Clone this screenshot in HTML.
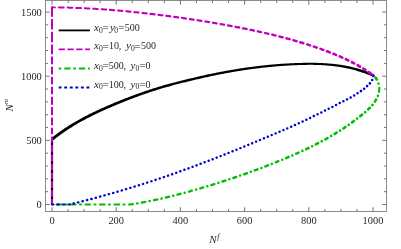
<!DOCTYPE html>
<html><head><meta charset="utf-8"><title>plot</title>
<style>html,body{margin:0;padding:0;background:#fff;}svg{display:block;will-change:transform;}text{font-family:"Liberation Serif",serif;fill:#262626;}</style></head>
<body>
<svg width="401" height="249" viewBox="0 0 401 249">
<rect width="401" height="249" fill="#fff"/>
<defs><clipPath id="c"><rect x="45.5" y="0.5" width="341.0" height="211.0"/></clipPath></defs>
<g clip-path="url(#c)" stroke="none">
<path d="M52 204.50 L52 139.4" stroke="#000" stroke-width="2.2" fill="none"/>
<path d="M53.11 140.42 L53.88 139.79 L54.65 139.17 L55.43 138.55 L56.21 137.94 L57.00 137.33 L57.79 136.73 L58.58 136.13 L59.38 135.54 L60.18 134.95 L60.98 134.36 L61.78 133.78 L62.59 133.20 L63.41 132.63 L64.22 132.07 L65.04 131.50 L65.86 130.94 L66.69 130.39 L67.52 129.84 L68.35 129.29 L69.18 128.75 L70.02 128.22 L70.86 127.68 L71.70 127.15 L72.54 126.63 L73.39 126.11 L74.24 125.59 L75.09 125.08 L75.95 124.57 L76.81 124.07 L77.67 123.57 L78.53 123.07 L79.39 122.58 L80.26 122.09 L81.13 121.60 L82.00 121.12 L82.87 120.64 L83.75 120.16 L84.63 119.69 L85.50 119.22 L86.39 118.76 L87.27 118.30 L88.15 117.84 L89.04 117.38 L89.93 116.93 L90.82 116.48 L91.71 116.04 L92.60 115.60 L93.50 115.16 L94.39 114.72 L95.29 114.28 L96.19 113.85 L97.09 113.42 L97.99 113.00 L98.90 112.57 L99.80 112.15 L100.71 111.74 L101.61 111.32 L102.52 110.91 L103.43 110.49 L104.34 110.08 L105.25 109.68 L106.16 109.27 L107.08 108.87 L107.99 108.47 L108.91 108.07 L109.82 107.67 L110.74 107.28 L111.66 106.88 L112.58 106.49 L113.50 106.10 L114.42 105.71 L115.34 105.32 L116.26 104.94 L117.18 104.55 L118.11 104.17 L119.03 103.79 L119.95 103.41 L120.88 103.03 L121.80 102.66 L122.73 102.28 L123.66 101.91 L124.58 101.54 L125.51 101.17 L126.44 100.80 L127.37 100.44 L128.30 100.07 L129.23 99.71 L130.16 99.35 L131.10 98.99 L132.03 98.64 L132.96 98.28 L133.90 97.93 L134.83 97.58 L135.77 97.23 L136.70 96.88 L137.64 96.54 L138.58 96.20 L139.52 95.85 L140.46 95.52 L141.40 95.18 L142.34 94.85 L143.28 94.51 L144.22 94.18 L145.17 93.85 L146.11 93.53 L147.05 93.21 L148.00 92.88 L148.95 92.56 L149.89 92.25 L150.84 91.93 L151.79 91.62 L152.74 91.31 L153.69 91.00 L154.64 90.70 L155.59 90.39 L156.54 90.09 L157.49 89.79 L158.45 89.50 L159.40 89.20 L160.35 88.91 L161.31 88.62 L162.27 88.34 L163.22 88.05 L164.18 87.77 L165.14 87.49 L166.10 87.22 L167.06 86.95 L168.02 86.68 L168.98 86.41 L169.94 86.14 L170.91 85.88 L171.87 85.62 L172.83 85.36 L173.80 85.10 L174.76 84.84 L175.73 84.59 L176.70 84.34 L177.67 84.09 L178.63 83.84 L179.60 83.59 L180.57 83.35 L181.54 83.11 L182.51 82.87 L183.48 82.62 L184.45 82.39 L185.42 82.15 L186.39 81.91 L187.37 81.67 L188.34 81.44 L189.31 81.21 L190.28 80.97 L191.26 80.74 L192.23 80.51 L193.21 80.28 L194.18 80.05 L195.15 79.82 L196.13 79.59 L197.10 79.36 L198.07 79.13 L199.05 78.90 L200.02 78.68 L201.00 78.45 L201.97 78.23 L202.95 78.01 L203.92 77.79 L204.90 77.57 L205.87 77.35 L206.85 77.14 L207.82 76.92 L208.80 76.71 L209.78 76.50 L210.75 76.29 L211.73 76.08 L212.71 75.87 L213.69 75.67 L214.67 75.47 L215.65 75.26 L216.62 75.07 L217.60 74.87 L218.58 74.67 L219.56 74.48 L220.54 74.28 L221.53 74.09 L222.51 73.90 L223.49 73.72 L224.47 73.53 L225.45 73.34 L226.43 73.16 L227.42 72.98 L228.40 72.80 L229.38 72.63 L230.37 72.45 L231.35 72.28 L232.34 72.10 L233.32 71.93 L234.31 71.77 L235.29 71.60 L236.28 71.44 L237.26 71.27 L238.25 71.11 L239.24 70.95 L240.22 70.80 L241.21 70.64 L242.20 70.49 L243.18 70.33 L244.17 70.18 L245.16 70.04 L246.15 69.89 L247.14 69.75 L248.13 69.60 L249.12 69.46 L250.11 69.33 L251.10 69.19 L252.09 69.05 L253.08 68.92 L254.07 68.79 L255.06 68.66 L256.05 68.54 L257.04 68.41 L258.03 68.29 L259.02 68.17 L260.02 68.05 L261.01 67.93 L262.00 67.82 L262.99 67.71 L263.99 67.60 L264.98 67.49 L265.97 67.38 L266.97 67.28 L267.96 67.17 L268.95 67.07 L269.95 66.97 L270.94 66.88 L271.94 66.78 L272.93 66.69 L273.93 66.60 L274.92 66.52 L275.92 66.43 L276.91 66.35 L277.91 66.27 L278.90 66.19 L279.90 66.11 L280.90 66.03 L281.89 65.96 L282.89 65.89 L283.89 65.82 L284.88 65.76 L285.88 65.69 L286.88 65.63 L287.87 65.57 L288.87 65.51 L289.87 65.46 L290.87 65.41 L291.87 65.36 L292.86 65.31 L293.86 65.26 L294.86 65.22 L295.86 65.18 L296.86 65.14 L297.85 65.10 L298.85 65.07 L299.85 65.03 L300.85 65.00 L301.85 64.98 L302.85 64.95 L303.84 64.93 L304.84 64.91 L305.84 64.89 L306.84 64.88 L307.84 64.87 L308.83 64.86 L309.83 64.85 L310.83 64.86 L311.83 64.86 L312.83 64.87 L313.82 64.89 L314.82 64.91 L315.82 64.93 L316.81 64.96 L317.81 64.99 L318.81 65.03 L319.80 65.07 L320.80 65.11 L321.79 65.16 L322.79 65.21 L323.78 65.27 L324.78 65.34 L325.77 65.41 L326.76 65.48 L327.76 65.56 L328.75 65.65 L329.74 65.74 L330.73 65.83 L331.72 65.93 L332.71 66.04 L333.70 66.16 L334.68 66.28 L335.67 66.40 L336.66 66.53 L337.64 66.67 L338.62 66.82 L339.61 66.97 L340.59 67.13 L341.57 67.29 L342.54 67.46 L343.52 67.64 L344.50 67.83 L345.47 68.02 L346.44 68.22 L347.41 68.43 L348.38 68.64 L349.35 68.86 L350.32 69.09 L351.28 69.33 L352.24 69.57 L353.20 69.82 L354.16 70.08 L355.11 70.34 L356.07 70.62 L357.02 70.90 L357.97 71.18 L358.92 71.47 L359.87 71.77 L360.81 72.08 L361.75 72.39 L362.69 72.71 L363.63 73.04 L364.57 73.37 L365.50 73.70 L366.43 74.05 L367.36 74.40 L368.29 74.75 L369.21 75.12 L370.13 75.48 L371.05 75.86 L371.97 76.23 L372.89 76.62 L373.91 74.18 L372.98 73.80 L372.04 73.42 L371.11 73.04 L370.17 72.67 L369.22 72.31 L368.28 71.96 L367.33 71.61 L366.38 71.27 L365.43 70.93 L364.47 70.60 L363.51 70.28 L362.55 69.96 L361.59 69.66 L360.63 69.35 L359.66 69.06 L358.69 68.77 L357.72 68.49 L356.75 68.22 L355.77 67.95 L354.80 67.69 L353.82 67.44 L352.84 67.19 L351.86 66.96 L350.87 66.73 L349.89 66.50 L348.90 66.29 L347.91 66.08 L346.92 65.88 L345.93 65.69 L344.93 65.51 L343.94 65.33 L342.94 65.16 L341.95 65.00 L340.95 64.84 L339.95 64.69 L338.95 64.55 L337.95 64.41 L336.95 64.28 L335.95 64.16 L334.95 64.04 L333.95 63.93 L332.95 63.82 L331.94 63.72 L330.94 63.63 L329.94 63.54 L328.93 63.46 L327.93 63.38 L326.92 63.31 L325.92 63.25 L324.91 63.18 L323.91 63.13 L322.90 63.08 L321.90 63.03 L320.89 62.99 L319.89 62.95 L318.88 62.92 L317.87 62.89 L316.87 62.87 L315.86 62.84 L314.86 62.83 L313.85 62.82 L312.85 62.81 L311.84 62.80 L310.84 62.80 L309.83 62.80 L308.83 62.80 L307.82 62.80 L306.82 62.81 L305.81 62.82 L304.81 62.83 L303.80 62.85 L302.80 62.87 L301.80 62.89 L300.79 62.91 L299.79 62.94 L298.79 62.96 L297.78 62.99 L296.78 63.03 L295.78 63.06 L294.77 63.10 L293.77 63.14 L292.77 63.18 L291.76 63.23 L290.76 63.27 L289.76 63.32 L288.76 63.38 L287.75 63.43 L286.75 63.49 L285.75 63.54 L284.75 63.60 L283.75 63.67 L282.74 63.73 L281.74 63.80 L280.74 63.87 L279.74 63.94 L278.74 64.01 L277.74 64.09 L276.74 64.17 L275.74 64.25 L274.74 64.33 L273.74 64.41 L272.74 64.50 L271.74 64.59 L270.74 64.68 L269.74 64.77 L268.74 64.87 L267.74 64.97 L266.74 65.07 L265.74 65.17 L264.74 65.27 L263.74 65.38 L262.75 65.48 L261.75 65.59 L260.75 65.71 L259.75 65.82 L258.76 65.93 L257.76 66.05 L256.76 66.17 L255.77 66.29 L254.77 66.42 L253.78 66.54 L252.78 66.67 L251.79 66.80 L250.79 66.93 L249.80 67.07 L248.80 67.20 L247.81 67.34 L246.81 67.48 L245.82 67.62 L244.83 67.77 L243.83 67.91 L242.84 68.06 L241.85 68.21 L240.86 68.36 L239.86 68.51 L238.87 68.67 L237.88 68.82 L236.89 68.98 L235.90 69.14 L234.91 69.31 L233.92 69.47 L232.93 69.64 L231.94 69.80 L230.95 69.97 L229.96 70.15 L228.97 70.32 L227.99 70.49 L227.00 70.67 L226.01 70.85 L225.02 71.03 L224.04 71.21 L223.05 71.40 L222.06 71.58 L221.08 71.77 L220.09 71.96 L219.11 72.15 L218.12 72.34 L217.14 72.54 L216.15 72.73 L215.17 72.93 L214.19 73.13 L213.20 73.33 L212.22 73.53 L211.24 73.74 L210.26 73.94 L209.28 74.15 L208.29 74.36 L207.31 74.57 L206.33 74.79 L205.35 75.00 L204.37 75.22 L203.39 75.43 L202.41 75.65 L201.44 75.87 L200.46 76.10 L199.48 76.32 L198.50 76.54 L197.53 76.77 L196.55 77.00 L195.57 77.22 L194.60 77.45 L193.62 77.68 L192.65 77.91 L191.67 78.14 L190.69 78.37 L189.72 78.61 L188.74 78.84 L187.77 79.07 L186.80 79.30 L185.82 79.54 L184.85 79.78 L183.87 80.01 L182.90 80.25 L181.92 80.49 L180.95 80.73 L179.98 80.97 L179.00 81.22 L178.03 81.46 L177.06 81.71 L176.08 81.96 L175.11 82.21 L174.14 82.46 L173.17 82.71 L172.20 82.97 L171.23 83.22 L170.26 83.48 L169.29 83.75 L168.32 84.01 L167.35 84.28 L166.38 84.55 L165.42 84.82 L164.45 85.09 L163.48 85.37 L162.52 85.65 L161.55 85.93 L160.59 86.21 L159.63 86.50 L158.66 86.79 L157.70 87.08 L156.74 87.38 L155.78 87.67 L154.82 87.97 L153.87 88.27 L152.91 88.58 L151.95 88.89 L151.00 89.19 L150.04 89.51 L149.09 89.82 L148.13 90.14 L147.18 90.45 L146.23 90.77 L145.28 91.10 L144.33 91.42 L143.38 91.75 L142.43 92.08 L141.48 92.41 L140.53 92.74 L139.59 93.08 L138.64 93.42 L137.70 93.76 L136.75 94.10 L135.81 94.44 L134.87 94.79 L133.92 95.14 L132.98 95.49 L132.04 95.84 L131.10 96.19 L130.16 96.55 L129.23 96.91 L128.29 97.26 L127.35 97.63 L126.42 97.99 L125.48 98.35 L124.55 98.72 L123.61 99.09 L122.68 99.46 L121.75 99.83 L120.81 100.21 L119.88 100.58 L118.95 100.96 L118.02 101.34 L117.10 101.72 L116.17 102.10 L115.24 102.49 L114.31 102.87 L113.39 103.26 L112.46 103.65 L111.54 104.04 L110.61 104.43 L109.69 104.83 L108.77 105.22 L107.85 105.62 L106.92 106.02 L106.00 106.42 L105.08 106.82 L104.16 107.23 L103.25 107.63 L102.33 108.04 L101.41 108.46 L100.50 108.87 L99.58 109.29 L98.67 109.70 L97.76 110.13 L96.84 110.55 L95.93 110.98 L95.03 111.41 L94.12 111.84 L93.21 112.27 L92.30 112.71 L91.40 113.15 L90.50 113.59 L89.60 114.04 L88.70 114.49 L87.80 114.94 L86.90 115.40 L86.01 115.86 L85.11 116.32 L84.22 116.79 L83.33 117.26 L82.44 117.73 L81.55 118.21 L80.67 118.69 L79.79 119.18 L78.91 119.66 L78.03 120.16 L77.15 120.65 L76.27 121.15 L75.40 121.66 L74.53 122.16 L73.66 122.68 L72.80 123.19 L71.93 123.71 L71.07 124.24 L70.21 124.77 L69.36 125.30 L68.50 125.84 L67.65 126.38 L66.81 126.92 L65.96 127.48 L65.12 128.03 L64.28 128.59 L63.44 129.15 L62.61 129.72 L61.78 130.30 L60.95 130.88 L60.13 131.46 L59.31 132.05 L58.49 132.64 L57.67 133.23 L56.86 133.84 L56.06 134.44 L55.25 135.05 L54.45 135.67 L53.66 136.29 L52.86 136.92 L52.07 137.55 L51.29 138.18Z" fill="#000"/>
<path d="M52 204.50 V198.95 M52 196.65 V190.25 M52 187.95 V181.25 M52 178.95 V172.65 M52 170.35 V163.75 M52 161.45 V154.55 M52 152.25 V144.85 M52 142.55 V136.45 M52 134.15 V127.65 M52 125.35 V117.45 M52 115.15 V106.95 M52 104.65 V96.65 M52 94.35 V86.65 M52 84.35 V76.75 M52 74.45 V66.65 M52 64.35 V56.45 M52 54.15 V44.55 M52 42.25 V31.75 M52 29.45 V18.95 M52 16.65 V6.5" stroke="#bf00bf" stroke-width="2.0" fill="none"/>
<path d="M52.0 7.4 L52.7 7.4 L53.4 7.4 L54.2 7.4 L54.9 7.4 M58.8 7.4 L59.5 7.5 L60.2 7.5 L60.9 7.5 L61.6 7.5 L62.3 7.5 L63.0 7.5 L63.7 7.5" fill="none" stroke="#bf00bf" stroke-width="1.9" stroke-linecap="round" stroke-linejoin="round"/>
<path d="M67.6 7.6 L68.4 7.6 L69.2 7.7 L69.9 7.7 L70.7 7.7 L71.5 7.7 L72.3 7.7 M76.2 7.9 L77.0 7.9 L77.8 7.9 L78.6 8.0 L79.3 8.0 L80.1 8.0 L80.9 8.1 M84.8 8.2 L85.5 8.3 L86.3 8.3 L87.1 8.4 L87.8 8.4 L88.6 8.4 L89.4 8.5 M93.2 8.7 L94.0 8.7 L94.7 8.8 L95.5 8.8 L96.2 8.9 L97.0 8.9 L97.7 9.0 M101.6 9.2 L102.3 9.3 L103.1 9.3 L103.8 9.4 L104.6 9.5 L105.3 9.5 L106.1 9.6" fill="none" stroke="#bf00bf" stroke-width="2.0" stroke-linecap="round" stroke-linejoin="round"/>
<path d="M109.9 9.9 L110.6 9.9 L111.4 10.0 L112.1 10.0 L112.8 10.1 L113.5 10.2 L114.3 10.2 M118.1 10.5 L118.9 10.6 L119.6 10.7 L120.3 10.7 L121.0 10.8 L121.7 10.9 L122.4 10.9 M126.3 11.3 L127.0 11.4 L127.7 11.4 L128.4 11.5 L129.1 11.6 L129.8 11.6 L130.5 11.7 M134.4 12.1 L135.1 12.2 L135.8 12.2 L136.5 12.3 L137.2 12.4 L137.9 12.5 L138.6 12.5 M142.4 13.0 L143.1 13.0 L143.8 13.1 L144.5 13.2 L145.2 13.3 L145.9 13.3 L146.6 13.4 M150.4 13.9 L151.1 13.9 L151.8 14.0 L152.5 14.1 L153.2 14.2 L153.9 14.3 L154.6 14.4 M158.4 14.8 L159.1 14.9 L159.8 15.0 L160.5 15.1 L161.1 15.2 L161.8 15.2 L162.5 15.3" fill="none" stroke="#bf00bf" stroke-width="2.1" stroke-linecap="round" stroke-linejoin="round"/>
<path d="M166.3 15.8 L167.0 15.9 L167.7 16.0 L168.3 16.1 L169.0 16.2 L169.7 16.2 L170.4 16.3 M174.2 16.9 L174.9 16.9 L175.5 17.0 L176.2 17.1 L176.9 17.2 L177.5 17.3 L178.2 17.4 M182.0 17.9 L182.8 18.0 L183.6 18.2 L184.4 18.3 L185.2 18.4 L186.0 18.5 M189.8 19.1 L190.6 19.2 L191.4 19.3 L192.2 19.4 L192.9 19.5 L193.7 19.7 M197.5 20.2 L198.3 20.4 L199.1 20.5 L199.9 20.6 L200.6 20.7 L201.4 20.9 M205.2 21.5 L206.0 21.6 L206.8 21.7 L207.5 21.8 L208.3 22.0 L209.1 22.1 M212.9 22.7 L213.6 22.9 L214.4 23.0 L215.1 23.1 L215.9 23.3 L216.7 23.4 M220.4 24.0 L221.2 24.2 L222.0 24.3 L222.7 24.5 L223.5 24.6 L224.2 24.7" fill="none" stroke="#bf00bf" stroke-width="2.2" stroke-linecap="round" stroke-linejoin="round"/>
<path d="M228.0 25.4 L228.8 25.6 L229.5 25.7 L230.2 25.8 L231.0 26.0 L231.7 26.1 M235.5 26.8 L236.3 27.0 L237.0 27.1 L237.7 27.3 L238.4 27.4 L239.2 27.5 M243.0 28.3 L243.7 28.4 L244.4 28.6 L245.1 28.7 L245.9 28.9 L246.6 29.0 M250.4 29.8 L251.1 29.9 L251.8 30.1 L252.5 30.2 L253.2 30.4 L253.9 30.6 M257.7 31.4 L258.4 31.5 L259.1 31.7 L259.8 31.8 L260.5 32.0 L261.2 32.1 M265.0 33.0 L265.7 33.2 L266.4 33.3 L267.1 33.5 L267.8 33.6 L268.5 33.8" fill="none" stroke="#bf00bf" stroke-width="2.3" stroke-linecap="round" stroke-linejoin="round"/>
<path d="M272.2 34.7 L272.9 34.9 L273.6 35.0 L274.2 35.2 L274.9 35.4 L275.6 35.5 M279.4 36.5 L280.0 36.6 L280.7 36.8 L281.3 37.0 L282.0 37.2 L282.7 37.3 M286.4 38.3 L287.1 38.5 L287.7 38.7 L288.4 38.9 L289.0 39.0 L289.7 39.2 M293.4 40.3 L294.0 40.4 L294.7 40.6 L295.3 40.8 L296.0 41.0 L296.6 41.2" fill="none" stroke="#bf00bf" stroke-width="2.4" stroke-linecap="round" stroke-linejoin="round"/>
<path d="M300.3 42.3 L300.9 42.5 L301.6 42.7 L302.2 42.8 L302.8 43.0 L303.4 43.2 M307.1 44.4 L307.9 44.6 L308.6 44.9 L309.4 45.1 L310.1 45.4 M313.8 46.6 L314.6 46.8 L315.3 47.1 L316.1 47.3 L316.8 47.6 M320.5 48.9 L321.2 49.1 L321.9 49.4 L322.6 49.7 L323.4 49.9" fill="none" stroke="#bf00bf" stroke-width="2.5" stroke-linecap="round" stroke-linejoin="round"/>
<path d="M327.0 51.3 L327.7 51.6 L328.4 51.8 L329.1 52.1 L329.8 52.4 M333.4 53.8 L334.1 54.1 L334.8 54.3 L335.4 54.6 L336.1 54.9 M339.7 56.4 L340.4 56.7 L341.0 57.0 L341.7 57.3 L342.3 57.6" fill="none" stroke="#bf00bf" stroke-width="2.6" stroke-linecap="round" stroke-linejoin="round"/>
<path d="M345.9 59.2 L346.5 59.5 L347.1 59.8 L347.7 60.1 L348.3 60.4 M351.9 62.2 L352.5 62.5 L353.0 62.8 L353.6 63.1 L354.2 63.4" fill="none" stroke="#bf00bf" stroke-width="2.7" stroke-linecap="round" stroke-linejoin="round"/>
<path d="M357.7 65.3 L358.2 65.6 L358.8 65.9 L359.3 66.2 L359.9 66.6 M363.3 68.6 L363.8 68.9 L364.4 69.3 L364.9 69.6 L365.4 69.9 M368.7 72.1 L369.2 72.4 L369.7 72.8 L370.2 73.1 L370.7 73.5" fill="none" stroke="#bf00bf" stroke-width="2.8" stroke-linecap="round" stroke-linejoin="round"/>
<path d="M373.2 75.3 L373.2 75.3" fill="none" stroke="#bf00bf" stroke-width="2.9" stroke-linecap="round" stroke-linejoin="round"/>
<path d="M52.4 204.5 L52.4 204.5 M56.5 204.5 L57.3 204.5 L58.0 204.5 L58.8 204.5 L59.6 204.5 L60.3 204.5 L61.1 204.5 M65.5 204.5 L66.0 204.5 L66.5 204.5 M71.0 204.5 L71.8 204.5 L72.5 204.5 L73.3 204.5 L74.1 204.5 L74.8 204.5 L75.6 204.5 M80.0 204.5 L80.5 204.5 L81.0 204.5 M85.5 204.5 L86.3 204.5 L87.0 204.5 L87.8 204.5 L88.6 204.5 L89.3 204.5 L90.1 204.5 M94.5 204.5 L95.0 204.5 L95.5 204.5 M100.0 204.5 L100.8 204.5 L101.5 204.5 L102.3 204.5 L103.1 204.5 L103.8 204.5 L104.6 204.5 M109.0 204.5 L109.5 204.5 L110.0 204.5 M114.5 204.5 L115.3 204.5 L116.0 204.5 L116.8 204.5 L117.6 204.5 L118.3 204.5 L119.1 204.5 M123.5 204.5 L124.0 204.5 L124.5 204.5" fill="none" stroke="#00bf00" stroke-width="2.1" stroke-linecap="round" stroke-linejoin="round"/>
<path d="M129.1 204.5 L129.9 204.5 L130.6 204.4 L131.4 204.3 L132.2 204.2 L132.9 204.1 M379.0 91.8 L379.1 91.0 L379.2 90.2 L379.2 89.4 L379.3 88.6 L379.3 87.8" fill="none" stroke="#00bf00" stroke-width="2.2" stroke-linecap="round" stroke-linejoin="round"/>
<path d="M137.1 203.4 L137.6 203.3 M141.8 202.6 L142.5 202.4 L143.2 202.3 L143.9 202.2 L144.6 202.1 L145.2 201.9 M149.4 201.1 L149.8 201.0 M154.0 200.2 L154.6 200.0 L155.3 199.9 L155.9 199.8 L156.6 199.6 L157.3 199.5" fill="none" stroke="#00bf00" stroke-width="2.3" stroke-linecap="round" stroke-linejoin="round"/>
<path d="M161.4 198.6 L161.7 198.5 M165.9 197.5 L166.5 197.4 L167.1 197.2 L167.7 197.1 L168.4 196.9 L169.0 196.8 M173.1 195.7 L173.3 195.7 M177.5 194.6 L178.3 194.4 L179.0 194.2 L179.8 194.0 L180.5 193.8 M184.6 192.8 L184.8 192.7 M189.0 191.6 L189.7 191.4 L190.5 191.2 L191.2 190.9 L191.9 190.7 M196.0 189.6 L196.2 189.5 M200.3 188.4 L201.0 188.2 L201.7 187.9 L202.5 187.7 L203.2 187.5 M207.2 186.3 L207.4 186.3 M211.4 185.0 L212.2 184.8 L212.9 184.6 L213.6 184.4 L214.3 184.1 M218.3 182.9 L218.5 182.8 M378.6 83.6 L378.5 83.4" fill="none" stroke="#00bf00" stroke-width="2.4" stroke-linecap="round" stroke-linejoin="round"/>
<path d="M222.5 181.5 L223.2 181.3 L223.9 181.1 L224.6 180.9 L225.3 180.6 M229.3 179.3 L229.4 179.3 M233.4 177.9 L234.1 177.7 L234.8 177.5 L235.4 177.2 L236.1 177.0 M240.1 175.6 L240.2 175.6 M244.2 174.2 L244.9 174.0 L245.5 173.7 L246.2 173.5 L246.9 173.3 M250.8 171.8 L250.9 171.8 M254.8 170.3 L255.5 170.1 L256.2 169.9 L256.8 169.6 L257.5 169.4 M261.4 167.9 L261.4 167.9 M265.4 166.4 L266.0 166.1 L266.7 165.9 L267.3 165.6 L268.0 165.4 M271.8 163.9 L271.9 163.8 M275.8 162.3 L276.4 162.0 L277.1 161.8 L277.7 161.5 L278.3 161.2 M282.2 159.7 L282.2 159.7 M286.1 158.1 L286.7 157.8 L287.3 157.5 L287.9 157.3 L288.6 157.0 M292.3 155.4 L292.4 155.4 M296.2 153.7 L296.8 153.4 L297.4 153.1 L298.0 152.9 L298.6 152.6 M377.9 95.9 L377.9 95.8" fill="none" stroke="#00bf00" stroke-width="2.5" stroke-linecap="round" stroke-linejoin="round"/>
<path d="M302.4 150.9 L302.4 150.9 M306.2 149.1 L306.8 148.8 L307.3 148.5 L307.9 148.3 L308.5 148.0 M312.2 146.2 L312.2 146.2 M315.9 144.3 L316.5 144.0 L317.0 143.7 L317.6 143.4 L318.1 143.2 M321.7 141.3 L321.8 141.2 M325.4 139.3 L325.9 139.0 L326.5 138.7 L327.0 138.4 L327.5 138.1 M331.0 136.1 L331.1 136.0 M334.6 134.0 L335.1 133.6 L335.6 133.3 L336.1 133.0 L336.7 132.7 M340.0 130.6 L340.1 130.6 M374.9 101.7 L375.2 101.2 L375.5 100.7 L375.8 100.2 L376.1 99.7" fill="none" stroke="#00bf00" stroke-width="2.6" stroke-linecap="round" stroke-linejoin="round"/>
<path d="M343.5 128.3 L344.2 127.9 L344.8 127.5 L345.4 127.0 M348.7 124.8 L348.8 124.8 M352.1 122.4 L352.7 121.9 L353.3 121.5 L353.9 121.0 M357.1 118.6 L357.1 118.6 M360.3 116.1 L360.9 115.6 L361.5 115.2 L362.1 114.7 M365.1 112.2 L365.2 112.1 M368.2 109.4 L368.7 108.9 L369.2 108.4 L369.8 107.9 M372.4 105.0 L372.5 104.9 M376.8 79.5 L376.4 78.9 L376.0 78.2 L375.5 77.6" fill="none" stroke="#00bf00" stroke-width="2.7" stroke-linecap="round" stroke-linejoin="round"/>
<path d="M52.0 204.5 L52.7 204.5 L53.5 204.5 M57.3 204.5 L57.9 204.5 L58.4 204.5 L59.0 204.5 M62.8 204.5 L63.4 204.5 L64.0 204.5 L64.6 204.5" fill="none" stroke="#0000cc" stroke-width="2.0" stroke-linecap="round" stroke-linejoin="round"/>
<path d="M68.5 204.5 L69.1 204.5 L69.8 204.4" fill="none" stroke="#0000cc" stroke-width="2.1" stroke-linecap="round" stroke-linejoin="round"/>
<path d="M373.4 76.3 L373.4 76.2" fill="none" stroke="#0000cc" stroke-width="2.2" stroke-linecap="round" stroke-linejoin="round"/>
<path d="M73.5 203.5 L74.0 203.4 M77.9 202.4 L78.4 202.3 M82.4 201.3 L82.9 201.1 M86.8 200.1 L87.3 200.0 M91.2 199.0 L91.7 198.9 M95.6 197.8 L96.0 197.7 M99.9 196.6 L100.4 196.5 M104.3 195.4 L104.8 195.3 M108.7 194.2 L109.1 194.1 M113.0 193.0 L113.4 192.9 M117.3 191.8 L117.7 191.6 M121.6 190.5 L122.0 190.4 M125.9 189.2 L126.3 189.1 M130.2 187.9 L130.5 187.8 M134.4 186.6 L134.8 186.5 M138.7 185.3 L139.0 185.2 M142.9 184.0 L143.2 183.9" fill="none" stroke="#0000cc" stroke-width="2.3" stroke-linecap="round" stroke-linejoin="round"/>
<path d="M147.1 182.6 L147.3 182.5 M151.3 181.3 L151.5 181.2 M155.5 179.9 L155.7 179.8 M159.6 178.5 L159.8 178.4 M163.8 177.1 L164.0 177.0 M167.9 175.7 L168.1 175.6 M172.0 174.2 L172.2 174.2 M176.2 172.8 L176.3 172.7 M180.2 171.3 L180.4 171.3 M184.3 169.8 L184.5 169.8 M188.4 168.4 L188.6 168.3 M192.5 166.9 L192.6 166.8 M196.5 165.4 L196.7 165.3 M200.5 163.8 L200.7 163.8 M204.6 162.3 L204.7 162.3 M208.6 160.8 L208.7 160.7 M212.6 159.2 L212.7 159.2 M216.6 157.7 L216.7 157.6 M220.6 156.1 L220.7 156.0 M224.5 154.5 L224.7 154.5 M228.5 152.9 L228.6 152.9 M232.5 151.3 L232.6 151.3 M236.4 149.7 L236.5 149.7 M240.3 148.1 L240.5 148.1 M244.3 146.5 L244.4 146.5 M248.2 144.9 L248.3 144.8 M252.1 143.3 L252.2 143.2 M256.0 141.6 L256.2 141.6 M259.9 140.0 L260.1 139.9 M263.9 138.3 L264.0 138.3 M267.8 136.7 L267.9 136.7 M271.7 135.1 L271.8 135.0 M275.6 133.4 L275.7 133.4 M279.5 131.8 L279.6 131.7 M283.4 130.1 L283.5 130.0 M287.2 128.4 L287.3 128.4 M291.1 126.7 L291.2 126.7" fill="none" stroke="#0000cc" stroke-width="2.4" stroke-linecap="round" stroke-linejoin="round"/>
<path d="M294.9 125.0 L295.0 125.0 M298.8 123.2 L298.8 123.2 M302.6 121.5 L302.6 121.5 M306.3 119.7 L306.4 119.7 M310.1 117.9 L310.1 117.9 M313.8 116.1 L313.9 116.1 M317.6 114.3 L317.6 114.3 M321.3 112.4 L321.3 112.4 M325.0 110.6 L325.0 110.6 M328.7 108.7 L328.7 108.7 M332.4 106.9 L332.4 106.9 M336.0 105.0 L336.1 105.0 M339.7 103.1 L339.7 103.1 M343.4 101.3 L343.4 101.2 M347.0 99.4 L347.1 99.3 M350.6 97.4 L350.7 97.4 M354.2 95.4 L354.2 95.4 M357.6 93.3 L357.6 93.3 M372.2 80.1 L372.2 80.1" fill="none" stroke="#0000cc" stroke-width="2.5" stroke-linecap="round" stroke-linejoin="round"/>
<path d="M360.9 91.1 L361.0 91.0 M364.1 88.7 L364.1 88.7 M367.1 86.1 L367.1 86.1 M369.9 83.4 L369.9 83.4" fill="none" stroke="#0000cc" stroke-width="2.6" stroke-linecap="round" stroke-linejoin="round"/>
</g>
<rect x="45.5" y="0.5" width="341.0" height="211.0" fill="none" stroke="#787878" stroke-width="0.85"/>
<path d="M52.00 211.50 v-4.30 M52.00 0.50 v4.30 M68.05 211.50 v-2.50 M68.05 0.50 v2.50 M84.10 211.50 v-2.50 M84.10 0.50 v2.50 M100.15 211.50 v-2.50 M100.15 0.50 v2.50 M116.20 211.50 v-4.30 M116.20 0.50 v4.30 M132.25 211.50 v-2.50 M132.25 0.50 v2.50 M148.30 211.50 v-2.50 M148.30 0.50 v2.50 M164.35 211.50 v-2.50 M164.35 0.50 v2.50 M180.40 211.50 v-4.30 M180.40 0.50 v4.30 M196.45 211.50 v-2.50 M196.45 0.50 v2.50 M212.50 211.50 v-2.50 M212.50 0.50 v2.50 M228.55 211.50 v-2.50 M228.55 0.50 v2.50 M244.60 211.50 v-4.30 M244.60 0.50 v4.30 M260.65 211.50 v-2.50 M260.65 0.50 v2.50 M276.70 211.50 v-2.50 M276.70 0.50 v2.50 M292.75 211.50 v-2.50 M292.75 0.50 v2.50 M308.80 211.50 v-4.30 M308.80 0.50 v4.30 M324.85 211.50 v-2.50 M324.85 0.50 v2.50 M340.90 211.50 v-2.50 M340.90 0.50 v2.50 M356.95 211.50 v-2.50 M356.95 0.50 v2.50 M373.00 211.50 v-4.30 M373.00 0.50 v4.30 M45.50 204.50 h4.30 M386.50 204.50 h-4.30 M45.50 191.67 h2.50 M386.50 191.67 h-2.50 M45.50 178.84 h2.50 M386.50 178.84 h-2.50 M45.50 166.01 h2.50 M386.50 166.01 h-2.50 M45.50 153.18 h2.50 M386.50 153.18 h-2.50 M45.50 140.35 h4.30 M386.50 140.35 h-4.30 M45.50 127.52 h2.50 M386.50 127.52 h-2.50 M45.50 114.69 h2.50 M386.50 114.69 h-2.50 M45.50 101.86 h2.50 M386.50 101.86 h-2.50 M45.50 89.03 h2.50 M386.50 89.03 h-2.50 M45.50 76.20 h4.30 M386.50 76.20 h-4.30 M45.50 63.37 h2.50 M386.50 63.37 h-2.50 M45.50 50.54 h2.50 M386.50 50.54 h-2.50 M45.50 37.71 h2.50 M386.50 37.71 h-2.50 M45.50 24.88 h2.50 M386.50 24.88 h-2.50 M45.50 12.05 h4.30 M386.50 12.05 h-4.30" fill="none" stroke="#5c5c5c" stroke-width="0.85"/>
<text x="52.00" y="223.8" font-size="10.4" text-anchor="middle">0</text>
<text x="116.20" y="223.8" font-size="10.4" text-anchor="middle">200</text>
<text x="180.40" y="223.8" font-size="10.4" text-anchor="middle">400</text>
<text x="244.60" y="223.8" font-size="10.4" text-anchor="middle">600</text>
<text x="308.80" y="223.8" font-size="10.4" text-anchor="middle">800</text>
<text x="373.00" y="223.8" font-size="10.4" text-anchor="middle">1000</text>
<text x="41.8" y="208.20" font-size="10.4" text-anchor="end">0</text>
<text x="41.8" y="144.05" font-size="10.4" text-anchor="end">500</text>
<text x="41.8" y="79.90" font-size="10.4" text-anchor="end">1000</text>
<text x="41.8" y="15.75" font-size="10.4" text-anchor="end">1500</text>
<text x="209.3" y="243" font-size="11" font-style="italic">N<tspan font-size="8" x="217.3" y="239">f</tspan></text>
<text transform="translate(12.9 111.6) rotate(-90)" font-size="11" font-style="italic">N<tspan font-size="6.8" x="7.5" y="-4.8">m</tspan></text>
<path d="M58.7 30.40 H89.9" fill="none" stroke="#000" stroke-width="1.8"/>
<text font-size="10"><tspan x="94.10" y="30.80" font-style="italic" font-size="11">x</tspan><tspan x="99.00" y="32.50" font-size="7.6">0</tspan><tspan x="105.80" y="31.20" font-size="11.3" text-anchor="middle">=</tspan><tspan x="110.00" y="30.80" font-style="italic" font-size="11">y</tspan><tspan x="114.30" y="32.50" font-size="7.6">0</tspan><tspan x="121.50" y="31.20" font-size="11.3" text-anchor="middle">=</tspan><tspan x="124.80" y="30.80">500</tspan></text>
<path d="M58.7 49.30 H89.9" fill="none" stroke="#bf00bf" stroke-width="1.8" stroke-dasharray="6.2 2.6" stroke-dashoffset="0"/>
<text font-size="10"><tspan x="94.10" y="49.40" font-style="italic" font-size="11">x</tspan><tspan x="99.00" y="51.10" font-size="7.6">0</tspan><tspan x="105.80" y="49.80" font-size="11.3" text-anchor="middle">=</tspan><tspan x="109.00" y="49.40">10</tspan><tspan x="118.80" y="49.40">,</tspan><tspan x="126.00" y="49.40" font-style="italic" font-size="11">y</tspan><tspan x="131.00" y="51.10" font-size="7.6">0</tspan><tspan x="137.50" y="49.80" font-size="11.3" text-anchor="middle">=</tspan><tspan x="140.90" y="49.40">500</tspan></text>
<path d="M58.7 68.50 H89.9" fill="none" stroke="#00bf00" stroke-width="1.8" stroke-dasharray="6.2 2.9 2.5 3.1" stroke-dashoffset="9.1"/>
<text font-size="10"><tspan x="94.10" y="68.90" font-style="italic" font-size="11">x</tspan><tspan x="99.00" y="70.60" font-size="7.6">0</tspan><tspan x="105.80" y="69.30" font-size="11.3" text-anchor="middle">=</tspan><tspan x="108.80" y="68.90">500</tspan><tspan x="123.60" y="68.90">,</tspan><tspan x="130.60" y="68.90" font-style="italic" font-size="11">y</tspan><tspan x="135.60" y="70.60" font-size="7.6">0</tspan><tspan x="142.40" y="69.30" font-size="11.3" text-anchor="middle">=</tspan><tspan x="145.60" y="68.90">0</tspan></text>
<path d="M58.7 87.50 H89.9" fill="none" stroke="#0000cc" stroke-width="1.8" stroke-dasharray="2.9 2.65" stroke-dashoffset="0"/>
<text font-size="10"><tspan x="94.10" y="87.60" font-style="italic" font-size="11">x</tspan><tspan x="99.00" y="89.30" font-size="7.6">0</tspan><tspan x="105.80" y="88.00" font-size="11.3" text-anchor="middle">=</tspan><tspan x="108.80" y="87.60">100</tspan><tspan x="123.60" y="87.60">,</tspan><tspan x="130.60" y="87.60" font-style="italic" font-size="11">y</tspan><tspan x="135.60" y="89.30" font-size="7.6">0</tspan><tspan x="142.40" y="88.00" font-size="11.3" text-anchor="middle">=</tspan><tspan x="145.60" y="87.60">0</tspan></text>
</svg></body></html>
